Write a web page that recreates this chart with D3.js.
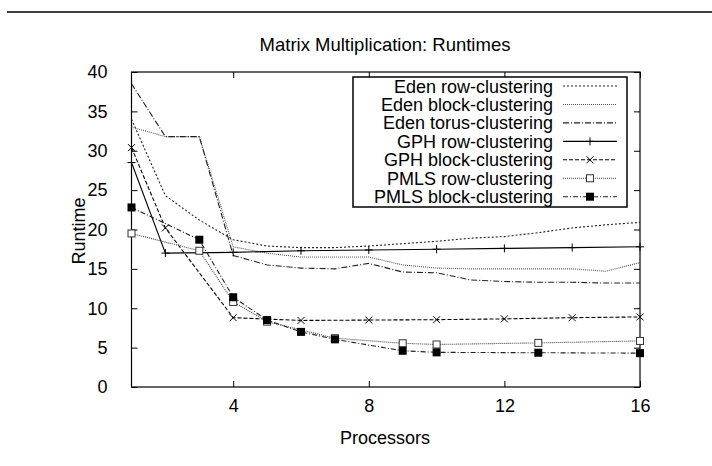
<!DOCTYPE html>
<html><head><meta charset="utf-8">
<script src="https://cdn.jsdelivr.net/npm/d3@7"></script>
<style>body{margin:0;background:#fff}svg{display:block}text{font-family:"Liberation Sans",Arial,sans-serif;fill:#000}</style>
</head><body><svg id="c" width="712" height="466"></svg>
<script>
const procs = [1,2,3,4,5,6,7,8,9,10,11,12,13,14,15,16];
const edenRow   = [34.0,24.3,21.2,18.7,17.9,17.7,17.7,17.9,18.2,18.5,18.9,19.1,19.6,20.2,20.6,20.9];
const edenBlock = [33.0,31.8,31.8,17.8,17.0,16.5,16.5,16.5,15.5,15.1,15.0,15.0,15.0,15.0,14.7,15.8];
const edenTorus = [38.5,31.8,31.8,16.7,15.5,15.1,15.0,15.7,14.6,14.5,13.6,13.4,13.3,13.3,13.2,13.2];
const gphX      = [1,2,4,6,8,10,12,14,16];
const gphRow    = [28.5,17.0,17.1,17.3,17.4,17.5,17.6,17.7,17.8];
const gphBlock  = [30.4,20.2,8.8,8.45,8.5,8.55,8.65,8.8,8.9];
const pmlsRowX  = [1,3,4,5,7,9,10,13,16];
const pmlsRow   = [19.5,17.3,10.8,8.3,6.2,5.55,5.4,5.6,5.85];
const pmlsBlockX= [1,3,4,5,6,7,9,10,13,16];
const pmlsBlock = [22.8,18.7,11.4,8.5,7.0,6.05,4.6,4.4,4.35,4.3];
const xTicks = [4,8,12,16];
const yTicks = [0,5,10,15,20,25,30,35,40];
const title = "Matrix Multiplication: Runtimes";
const xLabel = "Processors", yLabel = "Runtime";

const series = [
  {name:"Eden row-clustering",   x:procs, y:edenRow,   dash:"2,2",     color:"#222", marker:null},
  {name:"Eden block-clustering", x:procs, y:edenBlock, dash:"1,1",     color:"#555", marker:null},
  {name:"Eden torus-clustering", x:procs, y:edenTorus, dash:"6,2,1,2", color:"#222", marker:null},
  {name:"GPH row-clustering",    x:gphX,  y:gphRow,    dash:null,      color:"#000", marker:"plus"},
  {name:"GPH block-clustering",  x:gphX,  y:gphBlock,  dash:"4,2",     color:"#000", marker:"cross"},
  {name:"PMLS row-clustering",   x:pmlsRowX, y:pmlsRow, dash:"1,1",    color:"#444", marker:"square"},
  {name:"PMLS block-clustering", x:pmlsBlockX, y:pmlsBlock, dash:"5,2,1,2", color:"#222", marker:"fsquare"}
];

const FS = 18;
const svg = d3.select("#c");
const L=131.5, R=640, T=72, B=387;
const x = d3.scaleLinear().domain([1,16]).range([L,R]);
const y = d3.scaleLinear().domain([0,40]).range([B,T]);

svg.append("line").attr("x1",7).attr("x2",712).attr("y1",12).attr("y2",12).attr("stroke","#000").attr("stroke-width",1.5);

svg.append("text").attr("x",385).attr("y",51).attr("text-anchor","middle").attr("font-size",18.5).text(title);

// axes (ticks inward, mirrored)
const g = svg.append("g");
g.append("g").attr("transform",`translate(0,${B})`).call(d3.axisBottom(x).tickValues(xTicks).tickSize(-6).tickPadding(12).tickFormat(d3.format("d")));
g.append("g").attr("transform",`translate(0,${T})`).call(d3.axisTop(x).tickValues(xTicks).tickSize(-6).tickFormat(""));
g.append("g").attr("transform",`translate(${L},0)`).call(d3.axisLeft(y).tickValues(yTicks).tickSize(-6).tickPadding(24).tickFormat(d3.format("d")));
g.append("g").attr("transform",`translate(${R},0)`).call(d3.axisRight(y).tickValues(yTicks).tickSize(-6).tickFormat(""));
g.selectAll(".domain").remove();
g.selectAll(".tick line").attr("stroke","#000");
g.selectAll(".tick text").attr("font-size",FS).attr("font-family","Liberation Sans, Arial, sans-serif").attr("fill","#000");
svg.append("rect").attr("x",L).attr("y",T).attr("width",R-L).attr("height",B-T).attr("fill","none").attr("stroke","#000").attr("stroke-width",1.2);

svg.append("text").attr("x",385).attr("y",444).attr("text-anchor","middle").attr("font-size",FS).text(xLabel);
svg.append("text").attr("transform","translate(85,231) rotate(-90)").attr("text-anchor","middle").attr("font-size",FS).text(yLabel);

function marker(sel, type, cx, cy, color){
  const s=4;
  if(type==="plus"){
    sel.append("path").attr("d",`M${cx-s},${cy}H${cx+s}M${cx},${cy-s}V${cy+s}`).attr("stroke",color).attr("stroke-width",1);
  } else if(type==="cross"){
    sel.append("path").attr("d",`M${cx-3.5},${cy-3.5}L${cx+3.5},${cy+3.5}M${cx-3.5},${cy+3.5}L${cx+3.5},${cy-3.5}`).attr("stroke",color).attr("stroke-width",1);
  } else if(type==="square"){
    sel.append("rect").attr("x",cx-3.5).attr("y",cy-3.5).attr("width",7).attr("height",7).attr("fill","#fff").attr("stroke","#333").attr("stroke-width",1);
  } else if(type==="fsquare"){
    sel.append("rect").attr("x",cx-4).attr("y",cy-4).attr("width",8).attr("height",8).attr("fill","#000");
  }
}

const line = d3.line().x(d=>x(d[0])).y(d=>y(d[1]));
const plot = svg.append("g");
series.forEach(s=>{
  const pts = s.x.map((v,i)=>[v,s.y[i]]);
  const p = plot.append("path").datum(pts).attr("d",line).attr("fill","none").attr("stroke",s.color).attr("stroke-width",1.1);
  if(s.dash) p.attr("stroke-dasharray",s.dash);
});
series.forEach(s=>{
  if(!s.marker) return;
  s.x.forEach((v,i)=>marker(plot,s.marker,x(v),y(s.y[i]),s.color));
});

// legend
const lg = svg.append("g");
lg.append("rect").attr("x",353).attr("y",77).attr("width",274).attr("height",130).attr("fill","#fff").attr("stroke","#000").attr("stroke-width",1.5);
series.forEach((s,i)=>{
  const cy = 86 + i*18.45;
  lg.append("text").attr("x",553).attr("y",cy+6.5).attr("text-anchor","end").attr("font-size",FS).text(s.name);
  const l = lg.append("line").attr("x1",563).attr("x2",617).attr("y1",cy).attr("y2",cy).attr("stroke",s.color).attr("stroke-width",1.1);
  if(s.dash) l.attr("stroke-dasharray",s.dash);
  if(s.marker) marker(lg,s.marker,590,cy,s.color);
});
</script></body></html>
